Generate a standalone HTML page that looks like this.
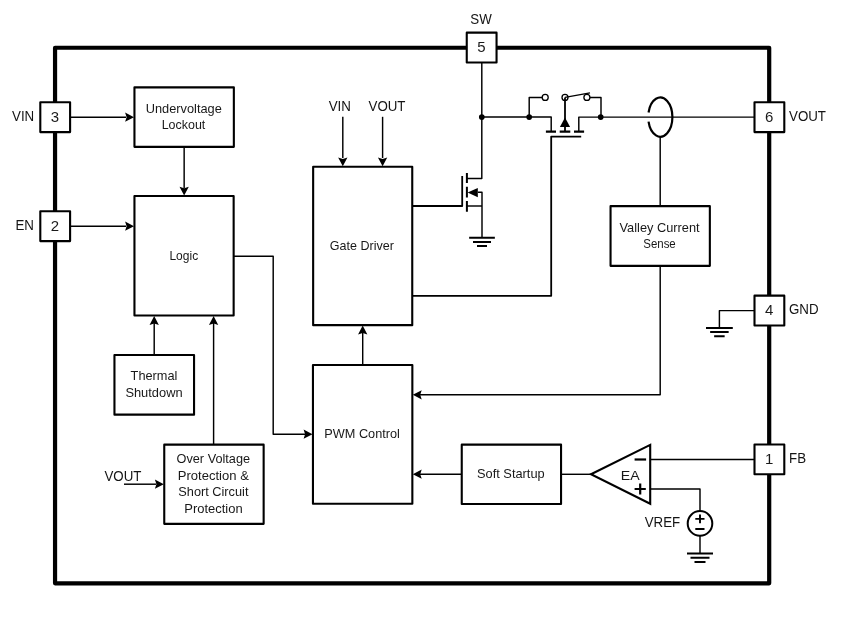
<!DOCTYPE html>
<html><head><meta charset="utf-8"><style>
html,body{margin:0;padding:0;background:#fff;width:850px;height:628px;overflow:hidden;}
svg{display:block;font-family:"Liberation Sans",sans-serif;filter:grayscale(1);}
</style></head><body>
<svg width="850" height="628" viewBox="0 0 850 628">
<rect x="55.05" y="47.75" width="714.15" height="535.55" fill="none" stroke="#000" stroke-width="4.2" stroke-linejoin="round"/>
<path d="M70,117.2 L126,117.2" fill="none" stroke="#000" stroke-width="1.45" stroke-linejoin="round" stroke-linecap="butt"/>
<path d="M134.00,117.20 L125.10,112.55 L126.60,117.20 L125.10,121.85Z" fill="#000"/>
<path d="M70,226.2 L126,226.2" fill="none" stroke="#000" stroke-width="1.45" stroke-linejoin="round" stroke-linecap="butt"/>
<path d="M134.00,226.20 L125.10,221.55 L126.60,226.20 L125.10,230.85Z" fill="#000"/>
<path d="M184.15,147 L184.15,188" fill="none" stroke="#000" stroke-width="1.45" stroke-linejoin="round" stroke-linecap="butt"/>
<path d="M184.15,195.60 L179.50,186.70 L184.15,188.20 L188.80,186.70Z" fill="#000"/>
<path d="M154.2,354.5 L154.2,323" fill="none" stroke="#000" stroke-width="1.45" stroke-linejoin="round" stroke-linecap="butt"/>
<path d="M154.20,316.00 L149.55,324.90 L154.20,323.40 L158.85,324.90Z" fill="#000"/>
<path d="M213.6,444 L213.6,323" fill="none" stroke="#000" stroke-width="1.45" stroke-linejoin="round" stroke-linecap="butt"/>
<path d="M213.60,316.00 L208.95,324.90 L213.60,323.40 L218.25,324.90Z" fill="#000"/>
<path d="M124,484.2 L156,484.2" fill="none" stroke="#000" stroke-width="1.45" stroke-linejoin="round" stroke-linecap="butt"/>
<path d="M163.80,484.20 L154.90,479.55 L156.40,484.20 L154.90,488.85Z" fill="#000"/>
<path d="M234,256.2 L273.2,256.2 L273.2,434.2 L305,434.2" fill="none" stroke="#000" stroke-width="1.45" stroke-linejoin="round" stroke-linecap="butt"/>
<path d="M312.50,434.20 L303.60,429.55 L305.10,434.20 L303.60,438.85Z" fill="#000"/>
<path d="M342.8,116.8 L342.8,158" fill="none" stroke="#000" stroke-width="1.45" stroke-linejoin="round" stroke-linecap="butt"/>
<path d="M342.80,166.30 L338.15,157.40 L342.80,158.90 L347.45,157.40Z" fill="#000"/>
<path d="M382.6,116.8 L382.6,158" fill="none" stroke="#000" stroke-width="1.45" stroke-linejoin="round" stroke-linecap="butt"/>
<path d="M382.60,166.30 L377.95,157.40 L382.60,158.90 L387.25,157.40Z" fill="#000"/>
<path d="M362.7,364.5 L362.7,333" fill="none" stroke="#000" stroke-width="1.45" stroke-linejoin="round" stroke-linecap="butt"/>
<path d="M362.70,325.60 L358.05,334.50 L362.70,333.00 L367.35,334.50Z" fill="#000"/>
<path d="M660.2,266 L660.2,394.8 L420,394.8" fill="none" stroke="#000" stroke-width="1.45" stroke-linejoin="round" stroke-linecap="butt"/>
<path d="M412.80,394.80 L421.70,390.15 L420.20,394.80 L421.70,399.45Z" fill="#000"/>
<path d="M461.5,474.2 L420,474.2" fill="none" stroke="#000" stroke-width="1.45" stroke-linejoin="round" stroke-linecap="butt"/>
<path d="M412.80,474.20 L421.70,469.55 L420.20,474.20 L421.70,478.85Z" fill="#000"/>
<path d="M561.5,474.3 L591,474.3" fill="none" stroke="#000" stroke-width="1.45" stroke-linejoin="round" stroke-linecap="butt"/>
<path d="M650,459.4 L754,459.4" fill="none" stroke="#000" stroke-width="1.45" stroke-linejoin="round" stroke-linecap="butt"/>
<path d="M650,489 L700,489 L700,512" fill="none" stroke="#000" stroke-width="1.45" stroke-linejoin="round" stroke-linecap="butt"/>
<path d="M700,534 L700,553.4" fill="none" stroke="#000" stroke-width="1.45" stroke-linejoin="round" stroke-linecap="butt"/>
<path d="M687.0,553.6 H713.0 M690.5,557.8000000000001 H709.5 M694.5,562.0 H705.5" stroke="#000" stroke-width="2.0" fill="none"/>
<path d="M754,310.6 L719.4,310.6 L719.4,328" fill="none" stroke="#000" stroke-width="1.45" stroke-linejoin="round" stroke-linecap="butt"/>
<path d="M706.0,327.9 H732.8 M710.15,332.09999999999997 H728.65 M714.15,336.29999999999995 H724.65" stroke="#000" stroke-width="2.0" fill="none"/>
<path d="M481.8,62 L481.8,178.4 L466.5,178.4" fill="none" stroke="#000" stroke-width="1.45" stroke-linejoin="round" stroke-linecap="butt"/>
<path d="M481.8,117.05 L551.2,117.05 L551.2,131.6" fill="none" stroke="#000" stroke-width="1.45" stroke-linejoin="round" stroke-linecap="butt"/>
<path d="M754,117.1 L578.8,117.1 L578.8,131.6" fill="none" stroke="#000" stroke-width="1.45" stroke-linejoin="round" stroke-linecap="butt"/>
<circle cx="481.8" cy="117.05" r="2.85" fill="#000"/>
<circle cx="529.2" cy="117.05" r="2.85" fill="#000"/>
<circle cx="600.7" cy="117.05" r="2.85" fill="#000"/>
<path d="M529.2,117.05 L529.2,97.4 L542.4,97.4" fill="none" stroke="#000" stroke-width="1.45" stroke-linejoin="round" stroke-linecap="butt"/>
<path d="M589.9,97.4 L601,97.4 L601,117.05" fill="none" stroke="#000" stroke-width="1.45" stroke-linejoin="round" stroke-linecap="butt"/>
<circle cx="545.2" cy="97.4" r="3.0" fill="#fff" stroke="#000" stroke-width="1.3"/>
<circle cx="565" cy="97.4" r="3.0" fill="#fff" stroke="#000" stroke-width="1.3"/>
<circle cx="586.9" cy="97.4" r="3.0" fill="#fff" stroke="#000" stroke-width="1.3"/>
<path d="M565,97.4 L590,92.9" fill="none" stroke="#000" stroke-width="1.3" stroke-linejoin="round" stroke-linecap="butt"/>
<path d="M565,97.4 L565,131.6" fill="none" stroke="#000" stroke-width="1.8" stroke-linejoin="round" stroke-linecap="butt"/>
<path d="M559.9,127.0 L565,117.4 L570.1,127.0 Z" fill="#000"/>
<path d="M545.9,131.6 H556 M559.7,131.6 H570.3 M574,131.6 H584.1" stroke="#000" stroke-width="2.2" fill="none"/>
<path d="M581.2,136.6 L551.2,136.6 L551.2,295.8 L412,295.8" fill="none" stroke="#000" stroke-width="1.8" stroke-linejoin="round" stroke-linecap="butt"/>
<path d="M466.9,173.1 V183 M466.9,186.7 V197.5 M466.9,200.9 V211.7" stroke="#000" stroke-width="2.0" fill="none"/>
<path d="M412,206 L462.2,206 L462.2,176.1" fill="none" stroke="#000" stroke-width="1.8" stroke-linejoin="round" stroke-linecap="butt"/>
<path d="M478,192.3 L482,192.3 L482,238" fill="none" stroke="#000" stroke-width="1.45" stroke-linejoin="round" stroke-linecap="butt"/>
<path d="M467,206 L482,206" fill="none" stroke="#000" stroke-width="1.45" stroke-linejoin="round" stroke-linecap="butt"/>
<path d="M467.6,192.6 L477.8,188 L477.8,197.2 Z" fill="#000"/>
<path d="M469.15,237.8 H494.85 M473.0,241.9 H491.0 M477.0,246.0 H487.0" stroke="#000" stroke-width="2.0" fill="none"/>
<path d="M648.54,112.50 A12.1,19.6 0 1 1 648.54,121.70" fill="none" stroke="#000" stroke-width="2.2"/>
<path d="M660.2,136.7 L660.2,206" fill="none" stroke="#000" stroke-width="1.45" stroke-linejoin="round" stroke-linecap="butt"/>
<path d="M591.0,474.3 L650.2,444.9 L650.2,503.7 Z" fill="#fff" stroke="#000" stroke-width="2.1" stroke-linejoin="miter"/>
<path d="M634.6,459.5 H646.1" stroke="#000" stroke-width="2.2"/>
<path d="M634.6,489 H645.8 M640.2,483.5 V494.6" stroke="#000" stroke-width="2.2"/>
<circle cx="700" cy="523.4" r="12.3" fill="#fff" stroke="#000" stroke-width="2.0"/>
<path d="M695.3,518.9 H704.5 M700,514.6 V523.2 M695.3,529 H704.5" stroke="#000" stroke-width="1.9"/>
<rect x="134.45" y="87.35" width="99.40" height="59.50" fill="#fff" stroke="#000" stroke-width="2.1" stroke-linejoin="round"/>
<rect x="134.45" y="195.95" width="99.20" height="119.50" fill="#fff" stroke="#000" stroke-width="2.1" stroke-linejoin="round"/>
<rect x="114.45" y="355.05" width="79.60" height="59.60" fill="#fff" stroke="#000" stroke-width="2.1" stroke-linejoin="round"/>
<rect x="164.25" y="444.65" width="99.40" height="79.20" fill="#fff" stroke="#000" stroke-width="2.1" stroke-linejoin="round"/>
<rect x="313.15" y="166.75" width="99.10" height="158.40" fill="#fff" stroke="#000" stroke-width="2.1" stroke-linejoin="round"/>
<rect x="312.95" y="365.05" width="99.40" height="138.70" fill="#fff" stroke="#000" stroke-width="2.1" stroke-linejoin="round"/>
<rect x="461.75" y="444.65" width="99.30" height="59.40" fill="#fff" stroke="#000" stroke-width="2.1" stroke-linejoin="round"/>
<rect x="610.55" y="206.15" width="99.30" height="59.70" fill="#fff" stroke="#000" stroke-width="2.1" stroke-linejoin="round"/>
<rect x="40.30" y="102.30" width="29.80" height="29.80" fill="#fff" stroke="#000" stroke-width="2.1" stroke-linejoin="round"/>
<text transform="matrix(1,0,0,1.03,55.0,121.95)" x="0" y="0" font-size="15.0" text-anchor="middle" fill="#1a1a1a">3</text>
<rect x="40.30" y="211.30" width="29.80" height="29.80" fill="#fff" stroke="#000" stroke-width="2.1" stroke-linejoin="round"/>
<text transform="matrix(1,0,0,1.03,55.0,230.95)" x="0" y="0" font-size="15.0" text-anchor="middle" fill="#1a1a1a">2</text>
<rect x="466.75" y="32.65" width="29.80" height="29.80" fill="#fff" stroke="#000" stroke-width="2.1" stroke-linejoin="round"/>
<text transform="matrix(1,0,0,1.03,481.45,52.3)" x="0" y="0" font-size="15.0" text-anchor="middle" fill="#1a1a1a">5</text>
<rect x="754.50" y="102.30" width="29.80" height="29.80" fill="#fff" stroke="#000" stroke-width="2.1" stroke-linejoin="round"/>
<text transform="matrix(1,0,0,1.03,769.1999999999999,121.95)" x="0" y="0" font-size="15.0" text-anchor="middle" fill="#1a1a1a">6</text>
<rect x="754.50" y="295.65" width="29.80" height="29.80" fill="#fff" stroke="#000" stroke-width="2.1" stroke-linejoin="round"/>
<text transform="matrix(1,0,0,1.03,769.1999999999999,315.3)" x="0" y="0" font-size="15.0" text-anchor="middle" fill="#1a1a1a">4</text>
<rect x="754.50" y="444.50" width="29.80" height="29.80" fill="#fff" stroke="#000" stroke-width="2.1" stroke-linejoin="round"/>
<text transform="matrix(1,0,0,1.03,769.1999999999999,464.15)" x="0" y="0" font-size="15.0" text-anchor="middle" fill="#1a1a1a">1</text>
<text transform="matrix(1,0,0,1.1,34.2,120.7)" x="0" y="0" font-size="13.33" text-anchor="end" fill="#141414">VIN</text>
<text transform="matrix(1,0,0,1.1,33.9,229.8)" x="0" y="0" font-size="13.33" text-anchor="end" fill="#141414">EN</text>
<text transform="matrix(1,0,0,1.1,481.0,23.8)" x="0" y="0" font-size="13.33" text-anchor="middle" fill="#141414">SW</text>
<text transform="matrix(1,0,0,1.1,339.8,111.0)" x="0" y="0" font-size="13.33" text-anchor="middle" fill="#141414">VIN</text>
<text transform="matrix(1,0,0,1.1,387.0,111.0)" x="0" y="0" font-size="13.33" text-anchor="middle" fill="#141414">VOUT</text>
<text transform="matrix(1,0,0,1.1,789.0,120.8)" x="0" y="0" font-size="13.33" text-anchor="start" fill="#141414">VOUT</text>
<text transform="matrix(1,0,0,1.1,789.0,314.1)" x="0" y="0" font-size="13.33" text-anchor="start" fill="#141414">GND</text>
<text transform="matrix(1,0,0,1.1,789.0,463.3)" x="0" y="0" font-size="13.33" text-anchor="start" fill="#141414">FB</text>
<text transform="matrix(1,0,0,1.1,680.2,527.4)" x="0" y="0" font-size="13.33" text-anchor="end" fill="#141414">VREF</text>
<text transform="matrix(1,0,0,1.1,104.4,480.6)" x="0" y="0" font-size="13.33" text-anchor="start" fill="#141414">VOUT</text>
<text x="183.8" y="112.5" font-size="12.6" text-anchor="middle" fill="#181818" textLength="76.10" lengthAdjust="spacingAndGlyphs">Undervoltage</text>
<text x="183.5" y="128.9" font-size="12.6" text-anchor="middle" fill="#181818" textLength="43.70" lengthAdjust="spacingAndGlyphs">Lockout</text>
<text x="183.8" y="259.7" font-size="12.6" text-anchor="middle" fill="#181818" textLength="28.70" lengthAdjust="spacingAndGlyphs">Logic</text>
<text x="154.0" y="380.1" font-size="12.6" text-anchor="middle" fill="#181818" textLength="46.80" lengthAdjust="spacingAndGlyphs">Thermal</text>
<text x="154.0" y="396.5" font-size="12.6" text-anchor="middle" fill="#181818" textLength="57.20" lengthAdjust="spacingAndGlyphs">Shutdown</text>
<text x="213.3" y="463.1" font-size="12.6" text-anchor="middle" fill="#181818" textLength="73.50" lengthAdjust="spacingAndGlyphs">Over Voltage</text>
<text x="213.3" y="479.5" font-size="12.6" text-anchor="middle" fill="#181818" textLength="71.10" lengthAdjust="spacingAndGlyphs">Protection &amp;</text>
<text x="213.4" y="496.0" font-size="12.6" text-anchor="middle" fill="#181818" textLength="70.10" lengthAdjust="spacingAndGlyphs">Short Circuit</text>
<text x="213.45" y="512.5" font-size="12.6" text-anchor="middle" fill="#181818" textLength="58.40" lengthAdjust="spacingAndGlyphs">Protection</text>
<text x="361.85" y="249.8" font-size="12.6" text-anchor="middle" fill="#181818" textLength="64.00" lengthAdjust="spacingAndGlyphs">Gate Driver</text>
<text x="362.1" y="437.9" font-size="12.6" text-anchor="middle" fill="#181818" textLength="75.70" lengthAdjust="spacingAndGlyphs">PWM Control</text>
<text x="510.85" y="477.5" font-size="12.6" text-anchor="middle" fill="#181818" textLength="67.60" lengthAdjust="spacingAndGlyphs">Soft Startup</text>
<text x="659.55" y="231.7" font-size="12.6" text-anchor="middle" fill="#181818" textLength="80.00" lengthAdjust="spacingAndGlyphs">Valley Current</text>
<text x="659.5" y="247.8" font-size="12.6" text-anchor="middle" fill="#181818" textLength="32.50" lengthAdjust="spacingAndGlyphs">Sense</text>
<text x="630.2" y="480.4" font-size="12.0" text-anchor="middle" fill="#181818" textLength="18.90" lengthAdjust="spacingAndGlyphs">EA</text>
</svg>
</body></html>
